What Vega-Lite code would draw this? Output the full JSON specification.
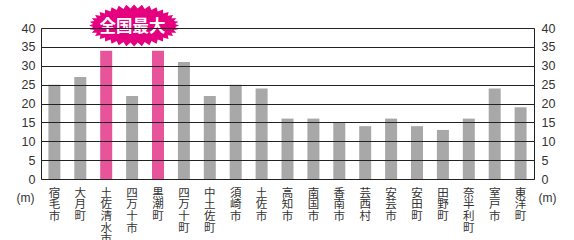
{
  "$schema": "https://vega.github.io/schema/vega-lite/v6.json",
  "width": 493,
  "height": 151,
  "autosize": "none",
  "padding": {"left": 41, "top": 28, "right": 40, "bottom": 61},
  "background": "white",
  "config": {"view": {"stroke": null}, "font": "Liberation Sans"},
  "data": {
    "values": [
      {"city": "宿毛市", "h": 25, "group": "other"},
      {"city": "大月町", "h": 27, "group": "other"},
      {"city": "土佐清水市", "h": 34, "group": "max"},
      {"city": "四万十市", "h": 22, "group": "other"},
      {"city": "黒潮町", "h": 34, "group": "max"},
      {"city": "四万十町", "h": 31, "group": "other"},
      {"city": "中土佐町", "h": 22, "group": "other"},
      {"city": "須崎市", "h": 25, "group": "other"},
      {"city": "土佐市", "h": 24, "group": "other"},
      {"city": "高知市", "h": 16, "group": "other"},
      {"city": "南国市", "h": 16, "group": "other"},
      {"city": "香南市", "h": 15, "group": "other"},
      {"city": "芸西村", "h": 14, "group": "other"},
      {"city": "安芸市", "h": 16, "group": "other"},
      {"city": "安田町", "h": 14, "group": "other"},
      {"city": "田野町", "h": 13, "group": "other"},
      {"city": "奈半利町", "h": 16, "group": "other"},
      {"city": "室戸市", "h": 24, "group": "other"},
      {"city": "東洋町", "h": 19, "group": "other"}
    ]
  },
  "encoding": {
    "x": {
      "field": "city",
      "type": "nominal",
      "sort": null,
      "scale": {
        "domain": ["宿毛市", "大月町", "土佐清水市", "四万十市", "黒潮町", "四万十町", "中土佐町", "須崎市", "土佐市", "高知市", "南国市", "香南市", "芸西村", "安芸市", "安田町", "田野町", "奈半利町", "室戸市", "東洋町"],
        "paddingInner": 0.537,
        "paddingOuter": 0.286
      },
      "axis": {
        "title": null,
        "labelAngle": 0,
        "labelExpr": "split(datum.label, '')",
        "labelFont": "Noto Sans CJK JP",
        "labelFontSize": 11.5,
        "labelLineHeight": 11.7,
        "labelBaseline": "top",
        "labelAlign": "center",
        "labelPadding": 8,
        "labelColor": "#333333",
        "ticks": false,
        "domain": true,
        "domainColor": "#222222",
        "domainWidth": 1,
        "grid": false
      }
    }
  },
  "layer": [
    {
      "mark": {"type": "bar"},
      "encoding": {
        "y": {
          "field": "h",
          "type": "quantitative",
          "scale": {"domain": [0, 40], "nice": false},
          "axis": {
            "title": "(m)",
            "titleAngle": 0,
            "titleX": -16,
            "titleY": 169,
            "titleAlign": "center",
            "titleBaseline": "middle",
            "titleFontSize": 12,
            "titleFontWeight": "normal",
            "titleColor": "#333333",
            "values": [0, 5, 10, 15, 20, 25, 30, 35, 40],
            "labelFontSize": 12.5,
            "labelColor": "#333333",
            "labelPadding": 6,
            "ticks": false,
            "domain": true,
            "domainColor": "#222222",
            "grid": true,
            "gridColor": "#222222",
            "gridWidth": 1,
            "gridOpacity": 1,
            "zindex": 1
          }
        },
        "color": {
          "field": "group",
          "type": "nominal",
          "scale": {"domain": ["other", "max"], "range": ["#A8A8A8", "#E8549A"]},
          "legend": null
        }
      }
    },
    {
      "mark": {"type": "bar", "opacity": 0},
      "encoding": {
        "y": {
          "field": "h",
          "type": "quantitative",
          "axis": {
            "orient": "right",
            "title": "(m)",
            "titleAngle": 0,
            "titleX": 13,
            "titleY": 169,
            "titleAlign": "center",
            "titleBaseline": "middle",
            "titleFontSize": 12,
            "titleFontWeight": "normal",
            "titleColor": "#333333",
            "values": [0, 5, 10, 15, 20, 25, 30, 35, 40],
            "labelFontSize": 12.5,
            "labelColor": "#333333",
            "labelPadding": 7,
            "ticks": false,
            "domain": true,
            "domainColor": "#222222",
            "grid": false,
            "zindex": 1
          }
        }
      }
    },
    {
      "data": {"values": [{"city": "四万十市", "label": "全国最大"}]},
      "mark": {
        "type": "point",
        "shape": "M1,0L0.91,0.033L0.985,0.081L0.882,0.098L0.94,0.16L0.827,0.161L0.866,0.234L0.748,0.218L0.766,0.3L0.646,0.269L0.643,0.358L0.524,0.311L0.5,0.404L0.386,0.344L0.342,0.439L0.236,0.367L0.174,0.46L0.08,0.379L0,0.467L-0.08,0.379L-0.174,0.46L-0.236,0.367L-0.342,0.439L-0.386,0.344L-0.5,0.404L-0.524,0.311L-0.643,0.358L-0.646,0.269L-0.766,0.3L-0.748,0.218L-0.866,0.234L-0.827,0.161L-0.94,0.16L-0.882,0.098L-0.985,0.081L-0.91,0.033L-1,0L-0.91,-0.033L-0.985,-0.081L-0.882,-0.098L-0.94,-0.16L-0.827,-0.161L-0.866,-0.234L-0.748,-0.218L-0.766,-0.3L-0.646,-0.269L-0.643,-0.358L-0.524,-0.311L-0.5,-0.404L-0.386,-0.344L-0.342,-0.439L-0.236,-0.367L-0.174,-0.46L-0.08,-0.379L0,-0.467L0.08,-0.379L0.174,-0.46L0.236,-0.367L0.342,-0.439L0.386,-0.344L0.5,-0.404L0.524,-0.311L0.643,-0.358L0.646,-0.269L0.766,-0.3L0.748,-0.218L0.866,-0.234L0.827,-0.161L0.94,-0.16L0.882,-0.098L0.985,-0.081L0.91,-0.033Z",
        "filled": true,
        "fill": "#E4007F",
        "stroke": null,
        "opacity": 1,
        "size": 8100,
        "xOffset": 2,
        "yOffset": -2.5,
        "clip": false
      },
      "encoding": {
        "y": {"datum": 40, "axis": null}
      }
    },
    {
      "data": {"values": [{"city": "四万十市", "label": "全国最大"}]},
      "mark": {
        "type": "text",
        "font": "Noto Sans CJK JP",
        "fontSize": 16.5,
        "fontWeight": "bold",
        "color": "white",
        "align": "center",
        "baseline": "middle",
        "xOffset": 0.5,
        "yOffset": -1.5
      },
      "encoding": {
        "y": {"datum": 40, "axis": null},
        "text": {"field": "label"}
      }
    }
  ],
  "resolve": {"axis": {"y": "independent"}}
}
